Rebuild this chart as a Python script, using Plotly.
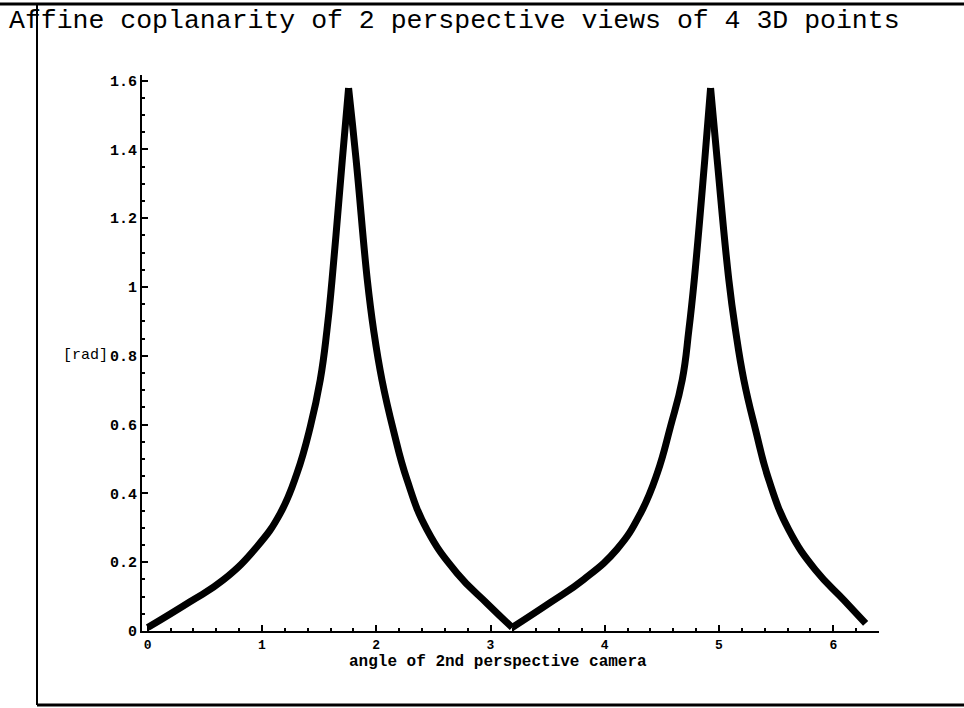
import plotly.graph_objects as go

# ---- data ----
angle = [0.0, 0.37, 0.66, 0.956, 1.16, 1.306, 1.423, 1.51, 1.569, 1.613, 1.703, 1.758,
         1.824, 1.922, 1.977, 2.05, 2.15, 2.27, 2.445, 2.707, 2.97, 3.19,
         3.525, 3.816, 4.108, 4.313, 4.459, 4.575, 4.678, 4.736, 4.783, 4.875, 4.926,
         4.984, 5.086, 5.144, 5.217, 5.32, 5.436, 5.611, 5.845, 6.093, 6.283]
value = [0.01, 0.085, 0.148, 0.245, 0.342, 0.458, 0.594, 0.73, 0.875, 1.02, 1.369, 1.578,
         1.369, 1.02, 0.875, 0.73, 0.584, 0.439, 0.294, 0.168, 0.08, 0.01,
         0.083, 0.15, 0.238, 0.342, 0.458, 0.594, 0.73, 0.875, 1.02, 1.369, 1.578,
         1.369, 1.02, 0.875, 0.73, 0.584, 0.439, 0.294, 0.177, 0.09, 0.022]
# indices of the cusps (peaks / trough) splitting the curve into smooth arcs
breaks = [0, 11, 21, 32, len(angle) - 1]

x_tickvals = [0, 1, 2, 3, 4, 5, 6]
x_ticktext = ["0", "1", "2", "3", "4", "5", "6"]
y_tickvals = [0, 0.2, 0.4, 0.6, 0.8, 1.0, 1.2, 1.4, 1.6]
y_ticktext = ["0", "0.2", "0.4", "0.6", "0.8", "1", "1.2", "1.4", "1.6"]

title_text = "Affine coplanarity of 2 perspective views of 4 3D points"
x_label = "angle of 2nd perspective camera"
y_label = "[rad]"

# ---- layout geometry (pixels) ----
W, H = 964, 708
L, R, T, B = 142, 85, 75, 77
PW, PH = W - L - R, H - T - B
FONT = "Liberation Mono, Courier New, monospace"


def px(xp):
    return (xp - L) / PW


def py(yp):
    return (H - B - yp) / PH


fig = go.Figure()
for i in range(len(breaks) - 1):
    a, b = breaks[i], breaks[i + 1]
    fig.add_trace(go.Scatter(
        x=angle[a:b + 1], y=value[a:b + 1], mode="lines",
        line=dict(color="black", width=7, shape="spline", smoothing=1.3),
        showlegend=False, hoverinfo="skip"))

axis_common = dict(
    showgrid=False, zeroline=False, showline=True, linecolor="black", linewidth=2,
    ticks="inside", ticklen=6, tickwidth=1.5, tickcolor="black",
)

fig.update_xaxes(range=[-0.05, 6.40], tickvals=x_tickvals, ticktext=x_ticktext,
                 tickfont=dict(family=FONT, size=13, color="black", weight="bold"),
                 minor=dict(ticks="inside", ticklen=3, dtick=0.2, tickcolor="black"),
                 **axis_common)
fig.update_yaxes(range=[0, 1.616], tickvals=y_tickvals, ticktext=y_ticktext,
                 tickfont=dict(family=FONT, size=15, color="black", weight="bold"),
                 minor=dict(ticks="inside", ticklen=3, dtick=0.05, tickcolor="black"),
                 **axis_common)

annotations = [
    dict(text=title_text, xref="paper", yref="paper", x=px(7), y=py(21),
         xanchor="left", yanchor="middle", showarrow=False,
         font=dict(family=FONT, size=26.5, color="black")),
    dict(text="<b>" + x_label + "</b>", xref="paper", yref="paper", x=px(497.5), y=py(662),
         xanchor="center", yanchor="middle", showarrow=False,
         font=dict(family=FONT, size=16, color="black")),
    dict(text=y_label, xref="paper", yref="paper", x=px(110), y=py(355),
         xanchor="right", yanchor="middle", showarrow=False,
         font=dict(family=FONT, size=15, color="black")),
]

shapes = [
    dict(type="line", xref="paper", yref="paper", x0=px(37), x1=px(37), y0=py(4), y1=py(705),
         line=dict(color="black", width=2)),
    dict(type="line", xref="paper", yref="paper", x0=px(0), x1=px(964), y0=py(4), y1=py(4),
         line=dict(color="black", width=3)),
    dict(type="line", xref="paper", yref="paper", x0=px(37), x1=px(964), y0=py(705), y1=py(705),
         line=dict(color="black", width=3)),
]

fig.update_layout(
    width=W, height=H, margin=dict(l=L, r=R, t=T, b=B),
    paper_bgcolor="white", plot_bgcolor="white",
    annotations=annotations, shapes=shapes, showlegend=False,
)

fig.write_html("out.html")
